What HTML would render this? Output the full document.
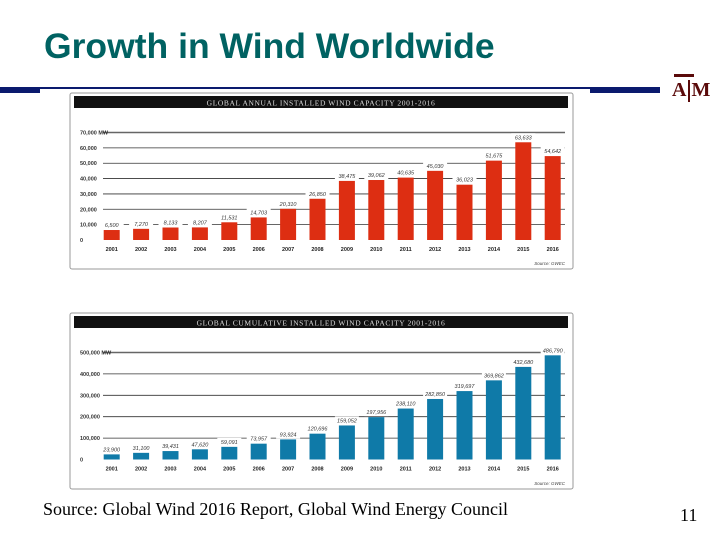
<!DOCTYPE html>
<html><head><meta charset="utf-8"><style>
body{margin:0;width:720px;height:540px;background:#fff;overflow:hidden;position:relative;font-family:"Liberation Sans",sans-serif}
.abs{position:absolute}
</style></head><body>
<div class="abs" style="left:44px;top:26px;font-size:35.5px;font-weight:bold;color:#006262;white-space:nowrap">Growth in Wind Worldwide</div>
<div class="abs" style="left:0;top:87px;width:660px;height:2px;background:#0a1a6e"></div>
<div class="abs" style="left:0;top:87px;width:40px;height:6px;background:#0a1a6e"></div>
<div class="abs" style="left:590px;top:87px;width:70px;height:6px;background:#0a1a6e"></div>
<div class="abs" style="left:672px;top:74px;width:40px;height:32px">
<div class="abs" style="left:2px;top:0;width:20px;height:3px;background:#5a0a0a"></div>
<div class="abs" style="left:0;top:5px;font-family:'Liberation Serif',serif;font-weight:bold;font-size:20px;color:#5a0a0a;letter-spacing:1px">A<span style="display:inline-block;width:2px;height:22px;background:#5a0a0a;vertical-align:-6px;margin:0 1px"></span>M</div>
</div>
<svg class="abs" style="left:0;top:0" width="720" height="540" id="svg"></svg>
<div class="abs" style="left:43px;top:499px;font-family:'Liberation Serif',serif;font-size:18px;color:#000;white-space:nowrap">Source: Global Wind 2016 Report, Global Wind Energy Council</div>
<div class="abs" style="left:680px;top:505px;font-family:'Liberation Serif',serif;font-size:18px">11</div>
<script>
const years=["2001","2002","2003","2004","2005","2006","2007","2008","2009","2010","2011","2012","2013","2014","2015","2016"];
const annualValues=[6500,7270,8133,8207,11531,14703,20310,26850,38475,39062,40635,45030,36023,51675,63633,54642];
const cumulativeValues=[23900,31100,39431,47620,59091,73957,93924,120696,159052,197956,238110,282850,319697,369862,432680,486790];
const annualTicks=[0,10000,20000,30000,40000,50000,60000,70000];
const cumulativeTicks=[0,100000,200000,300000,400000,500000];
const NS="http://www.w3.org/2000/svg";
const svg=document.getElementById('svg');
function mk(t,a,p){const e=document.createElementNS(NS,t);for(const k in a)e.setAttribute(k,a[k]);(p||svg).appendChild(e);return e;}
function fmt(v){return v.toLocaleString('en-US');}
function chart(cfg){
  const g=mk('g',{});
  
  
  const p=mk('rect',{x:cfg.x,y:cfg.y,width:503,height:176,fill:'#fff',stroke:'#999','stroke-width':1,rx:2},g);
  
  const tb=mk('rect',{x:cfg.x+4,y:cfg.y+3,width:494,height:12,fill:'#111'},g);
  
  const tt=mk('text',{x:cfg.x+251,y:cfg.y+12.5,'text-anchor':'middle','font-size':'7.5','font-family':'Liberation Serif,serif',fill:'#ddd','letter-spacing':'0.6'},g);
  tt.textContent=cfg.title;
  const max=cfg.ticks[cfg.ticks.length-1];
  const yS=v=>cfg.y0-(v/max)*(cfg.y0-cfg.yTop);
  const xS=i=>cfg.x+41.7+i*29.4;
  cfg.ticks.forEach((t,i)=>{
    if(t>0){const l=mk('line',{x1:cfg.x+33,x2:cfg.x+495,y1:yS(t),y2:yS(t),stroke:i==cfg.ticks.length-1?'#666':'#333','stroke-width':i==cfg.ticks.length-1?1.6:0.8},g);
    }
    const tx=mk('text',{x:cfg.x+10,y:yS(t)+2,'font-size':'5.5','font-weight':'bold',fill:'#333'},g);
    tx.textContent=(t==0?'0':fmt(t))+(i==cfg.ticks.length-1?' MW':'');
    
  });
  cfg.values.forEach((v,i)=>{
    const cx=xS(i);
    const r=mk('rect',{x:cx-8,y:yS(v),width:16,height:cfg.y0-yS(v),fill:cfg.color},g);
    
    const bg=mk('rect',{x:cx-12,y:yS(v)-9,width:24,height:8,fill:'#fff'},g);
    
    const vl=mk('text',{x:cx,y:yS(v)-3,'text-anchor':'middle','font-size':'5.5','font-style':'italic',fill:'#333'},g);
    vl.textContent=fmt(v);
    const yl=mk('text',{x:cx,y:cfg.y0+11,'text-anchor':'middle','font-size':'5.5','font-weight':'bold',fill:'#222'},g);
    yl.textContent=years[i];
  });
  const s=mk('text',{x:cfg.x+495,y:cfg.y+172,'text-anchor':'end','font-size':'4.5','font-style':'italic',fill:'#444'},g);
  s.textContent='Source: GWEC';
}
chart({name:'annual-chart',x:70,y:93,y0:240,yTop:132.5,ticks:annualTicks,values:annualValues,color:'#dd2e12',title:'GLOBAL ANNUAL INSTALLED WIND CAPACITY 2001-2016'});
chart({name:'cumulative-chart',x:70,y:313,y0:459.5,yTop:352.5,ticks:cumulativeTicks,values:cumulativeValues,color:'#0f7aa8',title:'GLOBAL CUMULATIVE INSTALLED WIND CAPACITY 2001-2016'});
</script>
</body></html>
